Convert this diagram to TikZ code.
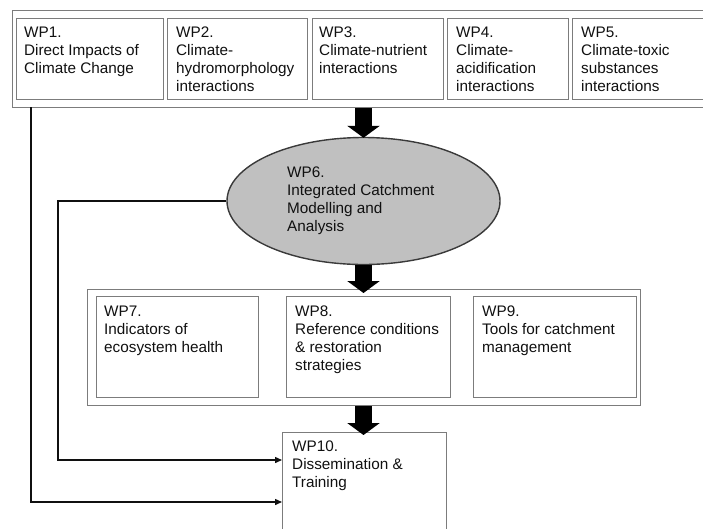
\documentclass[tikz,border=0pt]{standalone}
\usepackage{fontspec}
\setmainfont{Liberation Sans}
\usetikzlibrary{arrows.meta,shapes.geometric,calc}

\definecolor{boxgray}{HTML}{7C7C7C}
\definecolor{inkdark}{HTML}{101010}
\definecolor{ellfill}{HTML}{C0C0C0}
\definecolor{ellline}{HTML}{3A3A3A}

\tikzset{
  wpframe/.style={draw=boxgray, line width=1pt, rectangle, inner sep=0pt},
  wptext/.style={anchor=north west, inner sep=0pt, align=left, text=inkdark,
    font=\fontsize{15.3pt}{18pt}\selectfont},
  bigarrow/.style={draw=black, line width=17pt,
    -{Triangle[width=32pt,length=12pt]}},
  link/.style={draw=inkdark, line width=1.4pt,
    -{Triangle[width=6pt,length=7pt]}},
}

\begin{document}
\begin{tikzpicture}[x=1pt,y=-1pt]
  \useasboundingbox (0,0) rectangle (703,528);

  % top row of work packages
  \node[wpframe, minimum width=700pt, minimum height=97pt, anchor=north west] (toprow) at (12,10) {};
  \node[wpframe, minimum width=147pt, minimum height=81pt, anchor=north west] (wp1) at (16,18) {};
  \node[wpframe, minimum width=140pt, minimum height=81pt, anchor=north west] (wp2) at (167,18) {};
  \node[wpframe, minimum width=131pt, minimum height=81pt, anchor=north west] (wp3) at (312,18) {};
  \node[wpframe, minimum width=121pt, minimum height=81pt, anchor=north west] (wp4) at (447,18) {};
  \node[wpframe, minimum width=140pt, minimum height=81pt, anchor=north west] (wp5) at (572,18) {};

  \node[wptext] (t1) at (24,27) {WP1.\\Direct Impacts of\\Climate Change};
  \node[wptext] (t2) at (176,27) {WP2.\\Climate-\\hydromorphology\\interactions};
  \node[wptext] (t3) at (319,27) {WP3.\\Climate-nutrient\\interactions};
  \node[wptext] (t4) at (456,27) {WP4.\\Climate-\\acidification\\interactions};
  \node[wptext] (t5) at (581,27) {WP5.\\Climate-toxic\\substances\\interactions};

  % integrated modelling
  \node[ellipse, draw=ellline, line width=1.4pt, fill=ellfill, inner sep=0pt,
        minimum width=273pt, minimum height=127pt] (wp6) at (363.5,201) {};
  \node[wptext] (t6) at (287,167) {WP6.\\Integrated Catchment\\Modelling and\\Analysis};

  % middle row
  \node[wpframe, minimum width=553pt, minimum height=116pt, anchor=north west] (midrow) at (87,289) {};
  \node[wpframe, minimum width=162pt, minimum height=101pt, anchor=north west] (wp7) at (96,296) {};
  \node[wpframe, minimum width=164pt, minimum height=101pt, anchor=north west] (wp8) at (286,296) {};
  \node[wpframe, minimum width=163pt, minimum height=101pt, anchor=north west] (wp9) at (473,296) {};

  \node[wptext] (t7) at (104,306) {WP7.\\Indicators of\\ecosystem health};
  \node[wptext] (t8) at (295,306) {WP8.\\Reference conditions\\\& restoration\\strategies};
  \node[wptext] (t9) at (482,306) {WP9.\\Tools for catchment\\management};

  % dissemination
  \node[wpframe, minimum width=164pt, minimum height=100pt, anchor=north west] (wp10) at (282,432) {};
  \node[wptext] (t10) at (292,441) {WP10.\\Dissemination \&\\Training};

  % main flow
  \draw[bigarrow, shorten >=-1pt] (toprow.south -| wp6.north) -- (wp6.north);
  \draw[bigarrow, shorten >=-4pt] (wp6.south) -- (wp6.south |- midrow.north);
  \draw[bigarrow, shorten >=-3pt] (wp6.south |- midrow.south) -- (wp6.south |- wp10.north);

  % side links into dissemination
  \coordinate (c1) at (31,107);
  \coordinate (c1b) at (31,502);
  \coordinate (c2) at (58,201);
  \coordinate (c2b) at (58,460);
  \draw[link] (c1) -- (c1b) -- (c1b -| wp10.west);
  \draw[link] (wp6.west) -- (c2) -- (c2b) -- (c2b -| wp10.west);
\end{tikzpicture}
\end{document}
